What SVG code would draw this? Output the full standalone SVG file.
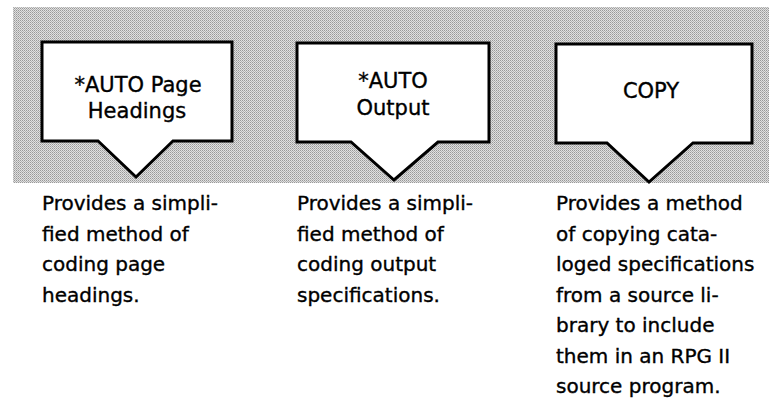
<svg xmlns="http://www.w3.org/2000/svg" width="769" height="407" viewBox="0 0 769 407">
<defs>
<pattern id="dots" width="2" height="2" patternUnits="userSpaceOnUse">
<rect width="2" height="2" fill="#e0e0e0"/>
<rect width="1" height="1" fill="#989898"/>
<rect x="1" y="1" width="1" height="1" fill="#b2b2b2"/>
</pattern>
</defs>
<style>
.box{fill:#fff;stroke:#000;stroke-width:3;stroke-linejoin:miter}
.lbl{font-family:"DejaVu Sans","Liberation Sans",sans-serif;font-size:21px;fill:#000;stroke:#000;stroke-width:0.35;text-anchor:middle}
.desc{font-family:"DejaVu Sans","Liberation Sans",sans-serif;font-size:20px;fill:#000;stroke:#000;stroke-width:0.35}
</style>
<rect id="band" x="13" y="7" width="756" height="176" fill="url(#dots)"/>
<g id="connectors"/>
<g id="auto-page">
<path class="box" d="M42,42 H232 V141 H173 L136,177 L98,141 H42 Z"/>
<text class="lbl" x="138" y="92">*AUTO Page</text>
<text class="lbl" x="137" y="118">Headings</text>
<text class="desc" x="42" y="210">Provides a simpli-</text>
<text class="desc" x="42" y="240.5">fied method of</text>
<text class="desc" x="42" y="271">coding page</text>
<text class="desc" x="42" y="301.5">headings.</text>
</g>
<g id="auto-output">
<path class="box" d="M297,43 H489 V142 H438 L394,180 L351,142 H297 Z"/>
<text class="lbl" x="393" y="88">*AUTO</text>
<text class="lbl" x="393" y="115">Output</text>
<text class="desc" x="297" y="210">Provides a simpli-</text>
<text class="desc" x="297" y="240.5">fied method of</text>
<text class="desc" x="297" y="271">coding output</text>
<text class="desc" x="297" y="301.5">specifications.</text>
</g>
<g id="copy">
<path class="box" d="M556,44 H752 V143 H693 L649,182 L607,143 H556 Z"/>
<text class="lbl" x="651" y="98">COPY</text>
<text class="desc" x="556" y="210">Provides a method</text>
<text class="desc" x="556" y="240.5">of copying cata-</text>
<text class="desc" x="556" y="271">loged specifications</text>
<text class="desc" x="556" y="301.5">from a source li-</text>
<text class="desc" x="556" y="332">brary to include</text>
<text class="desc" x="556" y="362.5">them in an RPG II</text>
<text class="desc" x="556" y="393">source program.</text>
</g>
</svg>
